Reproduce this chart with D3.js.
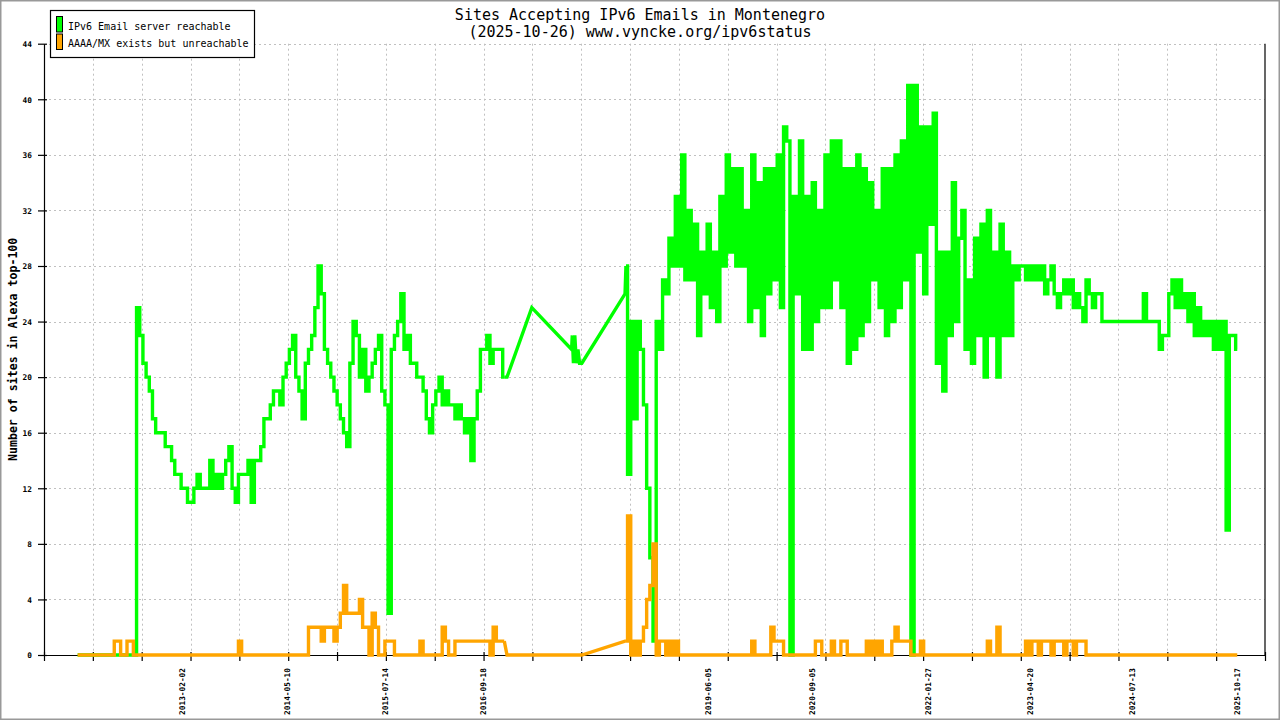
<!DOCTYPE html>
<html><head><meta charset="utf-8">
<script src="https://cdn.jsdelivr.net/npm/d3@7"></script>
<style>html,body{margin:0;padding:0;background:#fff;} svg{display:block;}</style>
</head><body><svg id="chart" width="1280" height="720"></svg>
<script>
// ---------------- data ----------------
const titleLines = ["Sites Accepting IPv6 Emails in Montenegro", "(2025-10-26) www.vyncke.org/ipv6status"];
const yAxisTitle = "Number of sites in Alexa top-100";
const seriesNames = ["IPv6 Email server reachable", "AAAA/MX exists but unreachable"];
const seriesColors = ["#00ff00", "#ffa500"];
const xDomain = ["2011-06-06", "2026-02-16"];
const xTickLabels = ["2013-02-02","2014-05-10","2015-07-14","2016-09-18","2019-06-05","2020-09-05","2022-01-27","2023-04-20","2024-07-13","2025-10-17"];
const yTicks = [0,4,8,12,16,20,24,28,32,36,40,44];
const xGridDivisions = 25;

// fortnightly samples, first period
const sampleStepDays = 14;
const earlyStart = "2011-11-01";
const greenEarly = [
  0,0,0,0,0,0,0,0,0,0,
  0,0,0,0,0,0,0,0,0,25,
  23,21,20,19,17,16,16,16,15,15,
  14,13,13,12,12,11,11,12,13,12,
  12,12,14,12,13,12,13,14,15,12,
  11,13,13,13,14,11,14,14,15,17,
  17,18,19,19,18,20,21,22,23,20,
  19,17,21,22,23,25,28,26,22,21,
  20,19,18,17,16,15,21,24,23,20,
  22,19,20,21,22,23,19,18,3,22,
  23,24,26,22,23,21,21,20,20,19,
  17,16,18,19,20,18,19,18,18,17,
  18,17,16,17,14,17,19,22,22,23,
  21,22,22,22,20
];
const orangeEarly = [
  0,0,0,0,0,0,0,0,0,0,
  0,0,1,1,0,0,1,1,0,0,
  0,0,0,0,0,0,0,0,0,0,
  0,0,0,0,0,0,0,0,0,0,
  0,0,0,0,0,0,0,0,0,0,
  0,1,0,0,0,0,0,0,0,0,
  0,0,0,0,0,0,0,0,0,0,
  0,0,0,2,2,2,2,1,2,2,
  2,1,2,3,5,3,3,3,3,4,
  2,2,0,3,2,0,0,1,1,1,
  0,0,0,0,0,0,0,0,1,0,
  0,0,0,0,0,2,1,0,0,1,
  1,1,1,1,1,1,1,1,1,1,
  0,2,1,1,1
];

// sparse measurements (2017 - mid 2018)
const gapDatesGreen = ["2017-01-01","2017-04-20","2017-10-12","2017-10-15","2017-10-20","2017-10-26","2017-11-02","2017-11-09","2017-11-16","2017-11-26","2018-06-04"];
const greenGap = [20,25,22,23,21,23,21,22,21,21,26];
const gapDatesOrange = ["2017-01-01","2017-11-26","2018-06-04"];
const orangeGap = [0,0,1];

// fortnightly samples, second period
const lateStart = "2018-06-08";
const greenLate = [
  28,13,24,17,24,22,18,12,7,1,
  24,22,27,26,30,28,33,28,36,27,
  32,27,31,23,29,26,31,25,29,24,
  33,28,36,29,35,28,35,28,32,24,
  36,25,34,23,35,26,35,27,36,25,
  38,37,0,33,26,37,22,33,22,34,
  24,32,25,36,25,37,27,37,25,35,
  21,35,22,36,23,35,24,34,27,32,
  25,35,23,35,24,36,25,37,27,41,
  0,41,29,38,26,38,31,39,21,29,
  19,29,23,34,24,30,32,22,27,21,
  30,23,31,20,32,23,29,20,31,23,
  29,23,28,27,28,28,27,28,27,28,
  27,28,26,27,28,26,25,26,27,26,
  27,25,26,25,24,27,26,25,26,26,
  24,24,24,24,24,24,24,24,24,24,
  24,24,24,26,24,24,24,24,22,23,
  23,26,27,25,27,25,26,24,26,23,
  25,23,24,23,24,22,24,22,24,9,
  23,23,22
];
const orangeLate = [
  1,10,0,1,0,1,2,4,5,8,
  0,1,1,0,1,0,1,0,0,0,
  0,0,0,0,0,0,0,0,0,0,
  0,0,0,0,0,0,0,0,0,0,
  1,0,0,0,0,0,2,1,1,1,
  0,0,0,0,0,0,0,0,0,0,
  1,1,0,0,0,1,0,0,1,1,
  0,0,0,0,0,0,1,0,1,0,
  1,0,0,0,1,2,1,1,1,1,
  0,0,0,1,0,0,0,0,0,0,
  0,0,0,0,0,0,0,0,0,0,
  0,0,0,0,1,0,0,2,0,0,
  0,0,0,0,0,0,1,0,1,1,
  0,1,1,1,0,1,1,1,0,1,
  1,0,1,1,1,0,0,0,0,0,
  0,0,0,0,0,0,0,0,0,0,
  0,0,0,0,0,0,0,0,0,0,
  0,0,0,0,0,0,0,0,0,0,
  0,0,0,0,0,0,0,0,0,0,
  0,0,0
];

// ---------------- drawing ----------------
const parse = d3.utcParse("%Y-%m-%d");
const svg = d3.select("#chart");
const FONT = "'DejaVu Sans Mono', 'Liberation Mono', monospace";

const plot = {left: 44, right: 1265, top: 43.7, bottom: 655};
const x = d3.scaleUtc().domain(xDomain.map(parse)).range([plot.left, plot.right]);
const y = d3.scaleLinear().domain([0, 44]).range([plot.bottom, plot.top]);

function sampled(start, values) {
  const s = parse(start);
  return values.map((v, i) => ({date: d3.utcDay.offset(s, i * sampleStepDays), value: v}));
}
function explicit(dates, values) {
  return dates.map((d, i) => ({date: parse(d), value: values[i]}));
}

svg.append("rect").attr("width", 1280).attr("height", 720).attr("fill", "#fff");
svg.append("rect").attr("x", 0.75).attr("y", 0.75).attr("width", 1278.5).attr("height", 718.5)
  .attr("fill", "none").attr("stroke", "#999").attr("stroke-width", 1.5);

// grid
const [d0, d1] = x.domain();
const gridDates = d3.range(0, xGridDivisions + 1).map(k => new Date(+d0 + k * (d1 - d0) / xGridDivisions));
const grid = svg.append("g").attr("stroke", "#c0c0c0").attr("stroke-width", 1).attr("stroke-dasharray", "2,3");
grid.selectAll("line.v").data(gridDates.slice(1, -1)).join("line")
  .attr("x1", d => Math.round(x(d)) + 0.5).attr("x2", d => Math.round(x(d)) + 0.5)
  .attr("y1", plot.top).attr("y2", plot.bottom);
grid.selectAll("line.h").data(yTicks.slice(1)).join("line")
  .attr("x1", plot.left).attr("x2", plot.right)
  .attr("y1", d => Math.round(y(d)) + 0.5).attr("y2", d => Math.round(y(d)) + 0.5);

// axes
const xAxis = svg.append("g").attr("transform", `translate(0,${plot.bottom})`)
  .call(d3.axisBottom(x).tickValues(gridDates).tickFormat("").tickSizeOuter(0));
xAxis.select(".domain").attr("stroke", "#000").attr("stroke-width", 1.2);
xAxis.selectAll(".tick line").attr("y1", -3).attr("y2", 6).attr("stroke", "#000").attr("stroke-width", 1.2);

const yAxis = svg.append("g").attr("transform", `translate(${plot.left},0)`)
  .call(d3.axisLeft(y).tickValues(yTicks).tickSizeOuter(0));
yAxis.select(".domain").attr("stroke", "#000").attr("stroke-width", 1.2);
yAxis.selectAll(".tick line").attr("x1", 3).attr("x2", -6).attr("stroke", "#000").attr("stroke-width", 1.2);
yAxis.selectAll(".tick text").attr("x", -12).attr("dy", "0.35em")
  .attr("font-family", FONT).attr("font-size", "7.8px").attr("font-weight", "bold").attr("fill", "#000");

svg.append("line").attr("x1", plot.right).attr("x2", plot.right).attr("y1", plot.top).attr("y2", plot.bottom)
  .attr("stroke", "#000").attr("stroke-width", 1.2);

// x tick labels (dates)
svg.append("g").selectAll("text").data(xTickLabels).join("text")
  .attr("transform", d => `translate(${x(parse(d))},668) rotate(-90)`)
  .attr("text-anchor", "end").attr("dy", "0.35em")
  .attr("font-family", FONT).attr("font-size", "7.8px").attr("font-weight", "bold").attr("fill", "#000")
  .text(d => d);

// y axis title
svg.append("text").attr("transform", `translate(13,${(plot.top + plot.bottom) / 2}) rotate(-90)`)
  .attr("text-anchor", "middle").attr("dy", "0.35em")
  .attr("font-family", FONT).attr("font-size", "11.6px").attr("font-weight", "bold").attr("fill", "#000")
  .text(yAxisTitle);

// title
svg.append("g").selectAll("text").data(titleLines).join("text")
  .attr("x", 640).attr("y", (d, i) => 19.5 + i * 17.5)
  .attr("text-anchor", "middle").attr("font-family", FONT).attr("font-size", "15px").attr("fill", "#000")
  .text(d => d);

// series
const series = [
  {early: sampled(earlyStart, greenEarly), gap: explicit(gapDatesGreen, greenGap), late: sampled(lateStart, greenLate), color: seriesColors[0]},
  {early: sampled(earlyStart, orangeEarly), gap: explicit(gapDatesOrange, orangeGap), late: sampled(lateStart, orangeLate), color: seriesColors[1]}
];
const stepLine = d3.line().x(d => x(d.date)).y(d => y(d.value)).curve(d3.curveStep);
const straightLine = d3.line().x(d => x(d.date)).y(d => y(d.value));
series.forEach(s => {
  const g = svg.append("g").attr("fill", "none").attr("stroke", s.color).attr("stroke-width", 3.4)
    .attr("stroke-linejoin", "miter").attr("stroke-linecap", "butt");
  g.append("path").attr("d", stepLine(s.early));
  g.append("path").attr("d", straightLine([s.early[s.early.length - 1], ...s.gap, s.late[0]]));
  g.append("path").attr("d", stepLine(s.late));
});

// legend
const lg = svg.append("g");
lg.append("rect").attr("x", 50.5).attr("y", 10.5).attr("width", 204).attr("height", 47)
  .attr("fill", "#fff").attr("stroke", "#000").attr("stroke-width", 1.2);
seriesNames.forEach((name, i) => {
  lg.append("rect").attr("x", 56.5).attr("y", 16.5 + i * 17.5).attr("width", 6).attr("height", 15.5)
    .attr("fill", seriesColors[i]).attr("stroke", "#000").attr("stroke-width", 1);
  lg.append("text").attr("x", 68).attr("y", 29.5 + i * 17.2)
    .attr("font-family", FONT).attr("font-size", "10px").attr("fill", "#000").text(name);
});
</script>
</body></html>
